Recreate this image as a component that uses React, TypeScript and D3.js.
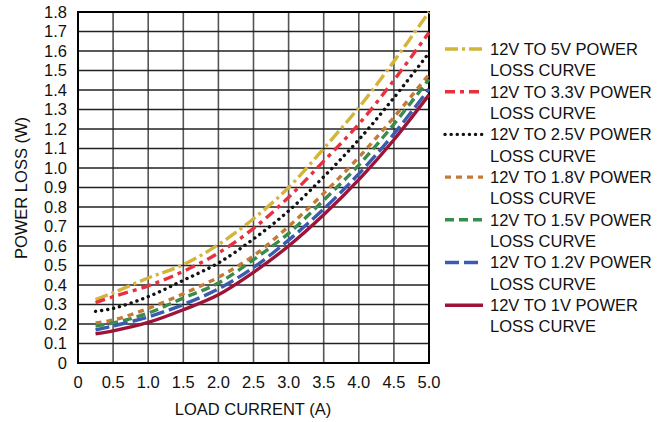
import React from "react";
import * as d3 from "d3";

const loadCurrent = [0.25, 0.5, 1.0, 1.5, 2.0, 2.5, 3.0, 3.5, 4.0, 4.5, 5.0];
const loss5V = [0.325, 0.36, 0.436, 0.504, 0.607, 0.74, 0.9, 1.1, 1.31, 1.547, 1.8];
const loss3V3 = [0.31, 0.34, 0.396, 0.47, 0.564, 0.69, 0.85, 1.035, 1.225, 1.45, 1.695];
const loss2V5 = [0.265, 0.28, 0.34, 0.424, 0.513, 0.636, 0.78, 0.955, 1.145, 1.36, 1.59];
const loss1V8 = [0.205, 0.22, 0.28, 0.355, 0.44, 0.55, 0.7, 0.87, 1.055, 1.26, 1.48];
const loss1V5 = [0.19, 0.205, 0.256, 0.333, 0.41, 0.53, 0.665, 0.835, 1.015, 1.225, 1.455];
const loss1V2 = [0.17, 0.19, 0.236, 0.3, 0.38, 0.49, 0.63, 0.79, 0.97, 1.175, 1.405];
const loss1V = [0.15, 0.165, 0.208, 0.273, 0.35, 0.465, 0.6, 0.76, 0.94, 1.145, 1.375];

const seriesNames = [
  "12V TO 5V POWER",
  "12V TO 3.3V POWER",
  "12V TO 2.5V POWER",
  "12V TO 1.8V POWER",
  "12V TO 1.5V POWER",
  "12V TO 1.2V POWER",
  "12V TO 1V POWER",
];
const seriesValues = [loss5V, loss3V3, loss2V5, loss1V8, loss1V5, loss1V2, loss1V];
const seriesColors = ["#d4b43a", "#e8313f", "#111111", "#c47a38", "#3a8c4c", "#3a5cae", "#9e1439"];
const seriesDash = ["13,4,3,4", "10,5,4,5", "0.1,6", "6,5", "9,5", "14,5", ""];

const xTicks = [0, 0.5, 1.0, 1.5, 2.0, 2.5, 3.0, 3.5, 4.0, 4.5, 5.0];
const yTicks = [0, 0.1, 0.2, 0.3, 0.4, 0.5, 0.6, 0.7, 0.8, 0.9, 1.0, 1.1, 1.2, 1.3, 1.4, 1.5, 1.6, 1.7, 1.8];

const FONT = "'Liberation Sans', Arial, sans-serif";

export default function App() {
  const W = 660, H = 422;
  const left = 78, right = 429, top = 12, bottom = 363;
  const x = d3.scaleLinear().domain([0, 5]).range([left, right]);
  const y = d3.scaleLinear().domain([0, 1.8]).range([bottom, top]);

  const line = d3
    .line<[number, number]>()
    .x((d) => x(d[0]))
    .y((d) => y(d[1]))
    .curve(d3.curveCatmullRom.alpha(0.5));

  const legendX0 = 445, legendX1 = 483, legendText = 490;
  const legendY0 = 49, entryGap = 42.7, lineGap = 21.3;

  return (
    <svg width={W} height={H} style={{ position: "absolute", left: 0, top: 0, background: "#fff" }}>
      <rect x={0} y={0} width={W} height={H} fill="#fff" />
      {xTicks.map((t, i) => (
        <line key={"gx" + i} x1={x(t)} x2={x(t)} y1={top} y2={bottom} stroke="#555" strokeWidth={1.6} />
      ))}
      {yTicks.map((t, i) => (
        <line key={"gy" + i} x1={left} x2={right} y1={y(t)} y2={y(t)} stroke="#222" strokeWidth={1.4} />
      ))}
      <rect x={left} y={top} width={right - left} height={bottom - top} fill="none" stroke="#000" strokeWidth={2} />

      {seriesValues.map((vals, i) => (
        <path
          key={"s" + i}
          d={line(loadCurrent.map((c, j) => [c, vals[j]] as [number, number])) || ""}
          fill="none"
          stroke={seriesColors[i]}
          strokeWidth={3.4}
          strokeDasharray={seriesDash[i]}
          strokeLinecap={i === 2 ? "round" : "butt"}
        />
      ))}

      {yTicks.map((t, i) => (
        <text key={"ty" + i} x={67} y={y(t)} dy="0.36em" textAnchor="end" fontFamily={FONT} fontSize={16.5} fill="#111">
          {t === 0 ? "0" : t.toFixed(1)}
        </text>
      ))}
      {xTicks.map((t, i) => (
        <text key={"tx" + i} x={x(t)} y={388} textAnchor="middle" fontFamily={FONT} fontSize={16.5} fill="#111">
          {t === 0 ? "0" : t.toFixed(1)}
        </text>
      ))}
      <text x={253} y={415} textAnchor="middle" fontFamily={FONT} fontSize={16.5} fill="#111">
        LOAD CURRENT (A)
      </text>
      <text
        transform={`translate(27,${188}) rotate(-90)`}
        textAnchor="middle"
        fontFamily={FONT}
        fontSize={16.5}
        fill="#111"
      >
        POWER LOSS (W)
      </text>

      {seriesNames.map((name, i) => {
        const cy = legendY0 + i * entryGap;
        return (
          <g key={"lg" + i}>
            <line
              x1={legendX0}
              x2={legendX1}
              y1={cy}
              y2={cy}
              stroke={seriesColors[i]}
              strokeWidth={3.4}
              strokeDasharray={seriesDash[i]}
              strokeLinecap={i === 2 ? "round" : "butt"}
            />
            <text x={legendText} y={cy} dy="0.36em" fontFamily={FONT} fontSize={16.5} fill="#111">
              {name}
            </text>
            <text x={legendText} y={cy + lineGap} dy="0.36em" fontFamily={FONT} fontSize={16.5} fill="#111">
              LOSS CURVE
            </text>
          </g>
        );
      })}
    </svg>
  );
}
